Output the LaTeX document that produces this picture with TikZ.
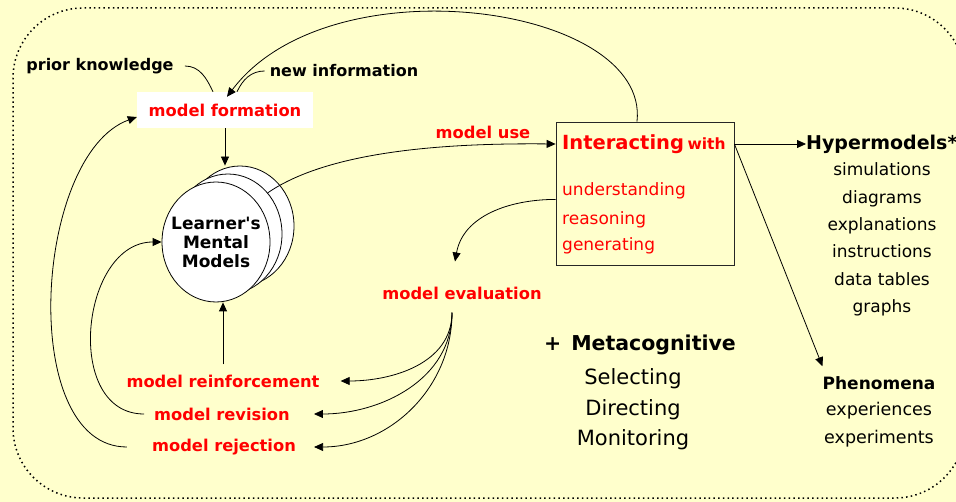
\documentclass[tikz,border=0pt]{standalone}
\usepackage{fontspec}
\setmainfont{DejaVu Sans}
\usepackage{xcolor}
\usetikzlibrary{shapes.geometric, arrows.meta, positioning}
\definecolor{paper}{HTML}{FFFFCC}
\definecolor{hot}{HTML}{FF0000}

\begin{document}
\begin{tikzpicture}[x=1pt, y=-1pt,
        redlabel/.style={text=hot, font=\bfseries\fontsize{16.3}{19}\selectfont, inner sep=1pt},
        blacklabel/.style={font=\bfseries\fontsize{16}{19}\selectfont, inner sep=1pt},
        skill/.style={anchor=west, text=hot, font=\fontsize{17}{20}\selectfont, inner sep=0pt},
        listtext/.style={align=center, inner sep=0pt},
        flow/.style={line width=0.8pt, -{Triangle[length=9pt,width=8pt]}},
        plain/.style={line width=0.8pt},
        mind/.style={
                ellipse,
                draw,
                fill=white,
                line width=0.8pt,
                minimum width=108pt,
                minimum height=120pt,
                inner sep=0pt,
        }]
            \useasboundingbox (0,0) rectangle (956,502);
            \fill[paper] (0,0) rectangle (956,502);
            \clip (0,0) rectangle (956,502);
            \draw[line width=1.5pt, dash pattern=on 1.5pt off 3.2pt, rounded corners=70pt] (13,8) rectangle (965,498);

            \node[mind] (mm3) at (240,226) {};
            \node[mind] (mm2) at (228,234) {};
            \node[mind] (mm) at (216,242) {};
            \node[align=center, font=\bfseries\fontsize{17}{19}\selectfont, inner sep=0pt] (mmtext) at (mm) {Learner\textquotesingle s\\Mental\\Models};

            \node[redlabel, fill=white, minimum width=176pt, minimum height=36pt] (form) at (225,110) {model formation};
            \node[blacklabel] (prior) at (100,66) {prior knowledge};
            \node[blacklabel] (newinfo) at (344,71) {new information};

            \node[draw=black!85, line width=0.8pt, minimum width=178pt, minimum height=143pt] (inter) at (645,193.5) {};
            \node[anchor=west, text=hot, font=\bfseries, inner sep=0pt] (interhead) at (562,144) {{\fontsize{19.5}{22}\selectfont Interacting} {\fontsize{15.5}{18}\selectfont with}};
            \node[skill] (under) at (562,191) {understanding};
            \node[skill] (reason) at (562,220) {reasoning};
            \node[skill] (gen) at (562,246) {generating};

            \node[redlabel] (use) at (483,132) {model use};
            \node[redlabel] (eval) at (462,293) {model evaluation};
            \node[redlabel] (reinf) at (223,381) {model reinforcement};
            \node[redlabel] (rev) at (222,414) {model revision};
            \node[redlabel] (rej) at (224,447) {model rejection};
            \coordinate[below=12pt of eval.south, xshift=-10pt] (fork);

            \node[anchor=west, font=\bfseries\fontsize{19}{22}\selectfont, inner sep=0pt] (hyper) at (806,144) {Hypermodels*};
            \node[listtext, font=\fontsize{17}{27.4}\selectfont] (media) at (882,239.5) {simulations\\diagrams\\explanations\\instructions\\data tables\\graphs};
            \node[font=\bfseries\fontsize{17}{20}\selectfont, inner sep=0pt] (phen) at (879,383) {Phenomena};
            \node[listtext, font=\fontsize{17.5}{28}\selectfont] (phenlist) at (879,425) {experiences\\experiments};

            \node[font=\bfseries\fontsize{20.5}{24}\selectfont, inner sep=0pt] (meta) at (640,345) {+\hspace{10pt}Metacognitive};
            \node[listtext, font=\fontsize{21}{30.5}\selectfont] (metalist) at (633,409.5) {Selecting\\Directing\\Monitoring};

            \draw[flow] (form.south) -- (form.south |- mm3.north);
            \draw[plain] ([xshift=10pt]prior.east) to[out=0, in=115] ([xshift=-12pt]form.north);
            \draw[plain] ([xshift=-4pt]newinfo.west) to[out=180, in=65] ([xshift=12pt]form.north);
            \draw[flow] ([xshift=-8pt]inter.north) .. controls (650,5) and (330,-40) .. ([xshift=2pt,yshift=-5pt]form.north);

            \draw[flow] (mm2.46) .. controls (330,150) and (450,143) .. (inter.west |- interhead.west);
            \draw[flow] (inter.east |- interhead.west) -- (hyper.west);
            \draw[flow] (inter.east |- interhead.west) -- ([yshift=10pt]phen.north west);
            \draw[flow] (inter.west |- under.south) to[out=180, in=80] ([xshift=-7pt,yshift=24pt]eval.north);

            \foreach \target/\gap in {reinf/20, rev/23, rej/17}
                \draw[flow] (fork) to[out=-90, in=0] ([xshift=\gap pt]\target.east);

            \draw[flow] ([yshift=9pt]reinf.north) -- (reinf.north |- mm.south);
            \draw[flow] ([xshift=-9pt]rev.west) to[out=180, in=180, looseness=1.2] (mm.west);
            \draw[flow] ([xshift=-24pt]rej.west) to[out=180, in=200, looseness=0.85] ([yshift=-7pt]form.west);
        \end{tikzpicture}
\end{document}
